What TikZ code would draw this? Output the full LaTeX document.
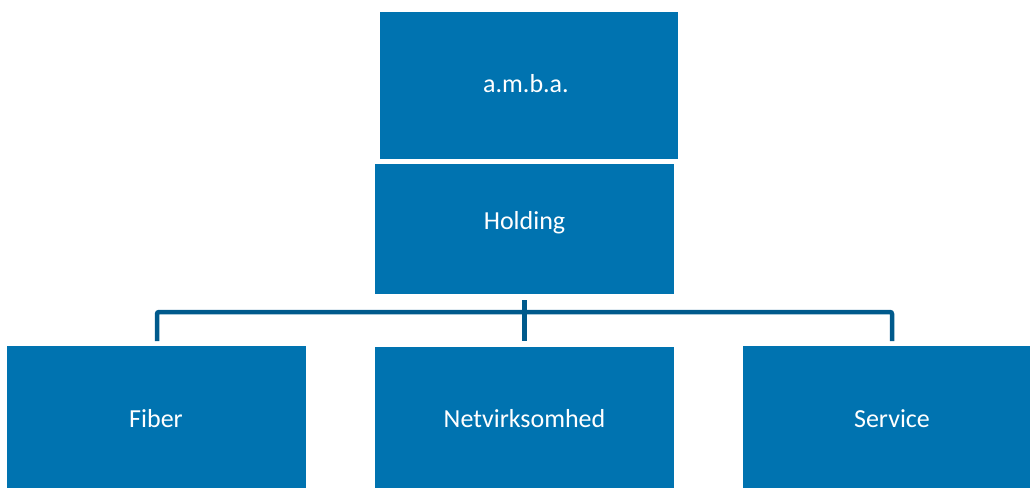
\documentclass[tikz,border=0pt]{standalone}
\usepackage{fontspec}
\setmainfont{Carlito}
\definecolor{boxblue}{RGB}{0,115,176}
\definecolor{lineblue}{RGB}{0,90,140}
\begin{document}
\begin{tikzpicture}[x=1pt,y=-1pt,
  orgbox/.style={fill=boxblue,draw=none,inner sep=0pt},
  orglabel/.style={anchor=base,text=white,font=\fontsize{26}{30}\selectfont,inner sep=0pt},
  bus/.style={draw=lineblue,line width=4.5pt,rounded corners=2pt}]
\useasboundingbox (0,0) rectangle (1030,488);
% boxes
\node[orgbox,minimum width=298pt,minimum height=147pt] (amba) at (529,85.5) {};
\node[orgbox,minimum width=299pt,minimum height=130pt] (holding) at (524.5,229) {};
\node[orgbox,minimum width=299pt,minimum height=142pt] (fiber) at (156.5,417) {};
\node[orgbox,minimum width=299pt,minimum height=141pt] (netv) at (524.5,417.5) {};
\node[orgbox,minimum width=287pt,minimum height=142pt] (service) at (886.5,417) {};
% labels
\node[orglabel] (amba-t) at (526,92) {a.m.b.a.};
\node[orglabel] (holding-t) at (524.5,229) {Holding};
\node[orglabel] (fiber-t) at (156,427) {Fiber};
\node[orglabel] (netv-t) at (524.5,427) {Netvirksomhed};
\node[orglabel] (service-t) at (892,427) {Service};
% connectors
\coordinate (busy) at (0,312);
\coordinate (fibtop) at (157,341);
\coordinate (sertop) at (892,341);
\draw[bus] (fibtop) -- (fibtop |- busy) -- (sertop |- busy) -- (sertop);
\draw[draw=lineblue,line width=5pt,shorten <=6pt,shorten >=6pt] (holding.south -| netv.north) -- (netv.north);
\end{tikzpicture}
\end{document}
